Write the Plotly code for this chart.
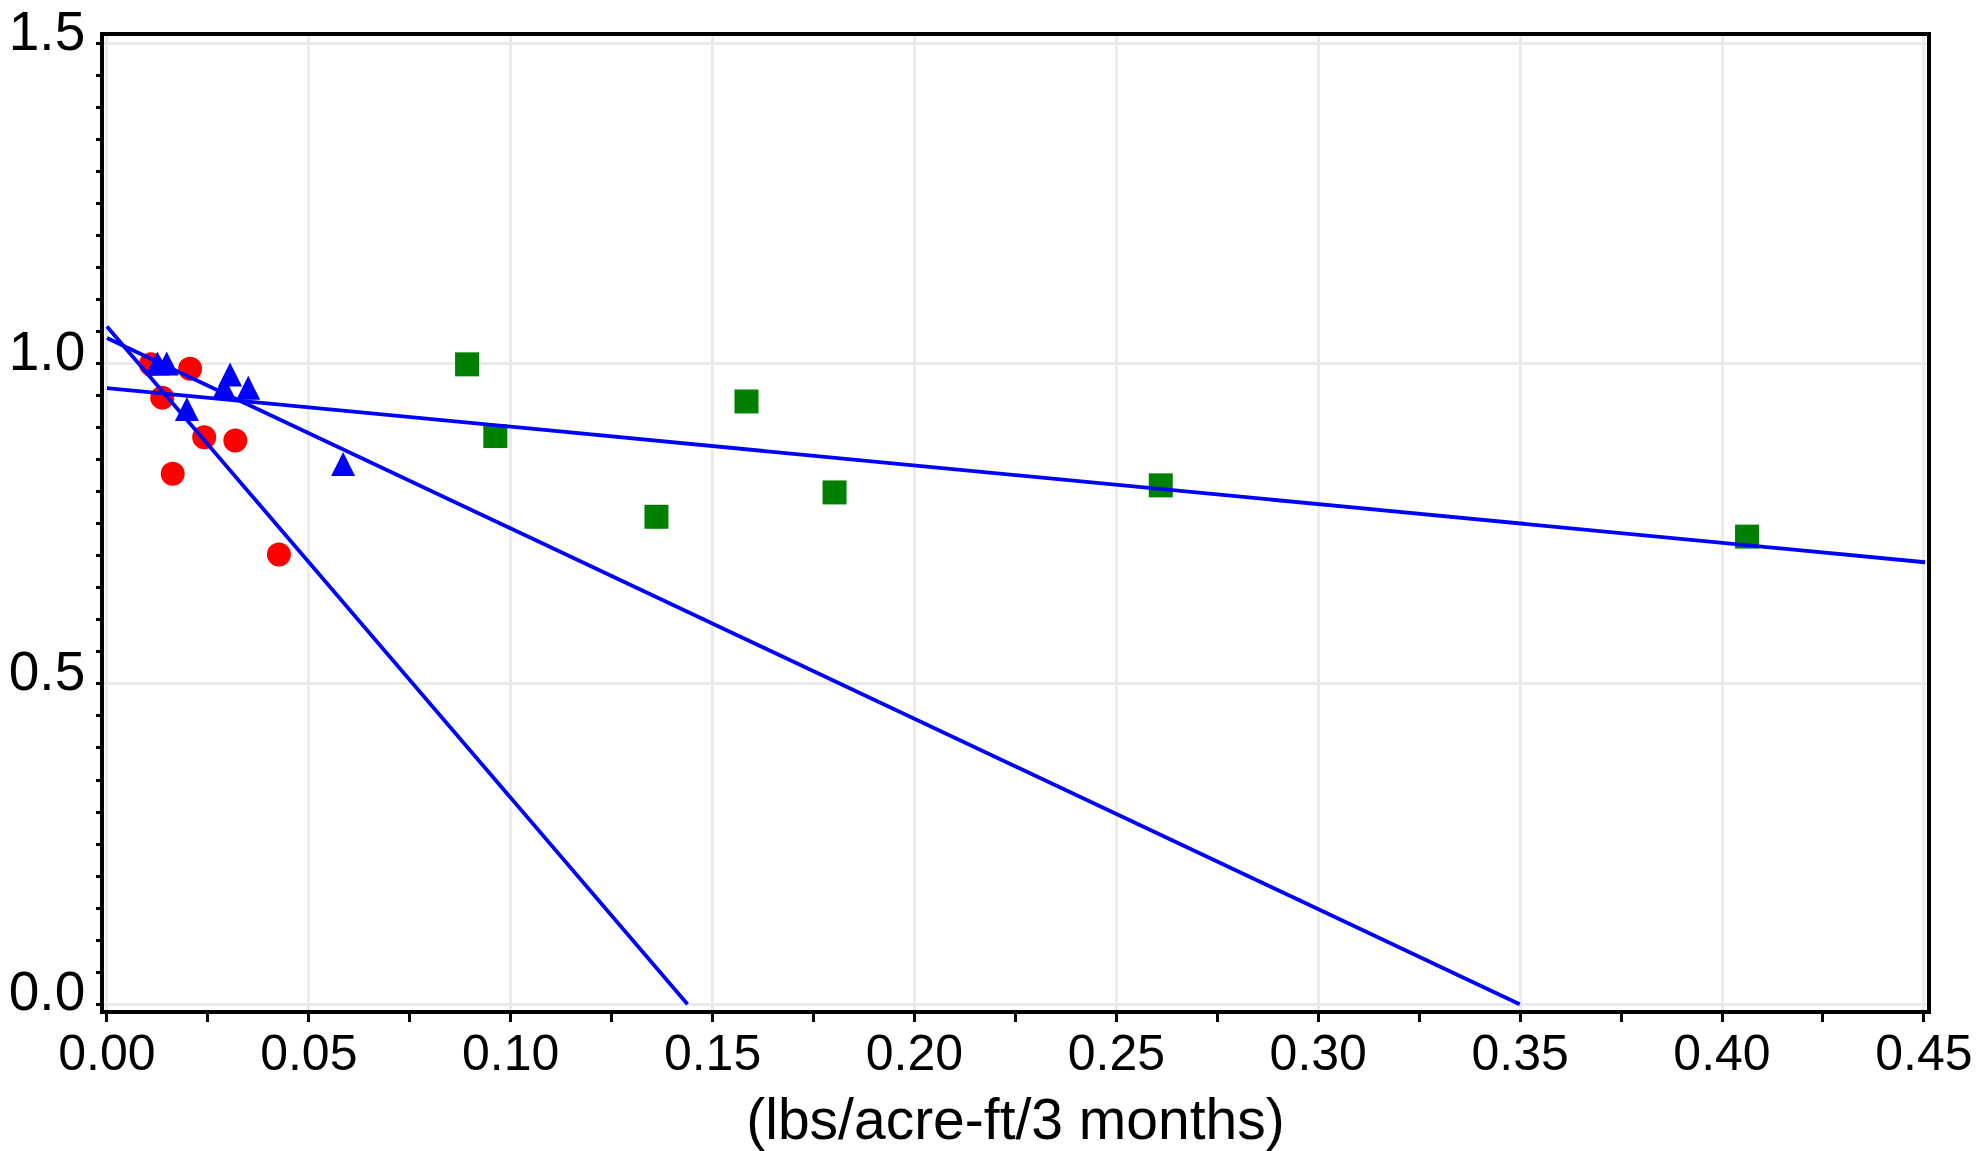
import plotly.graph_objects as go

# ---- data ----
red_x = [0.0109, 0.0206, 0.0137, 0.0241, 0.0318, 0.0163, 0.0426]
red_y = [0.999, 0.992, 0.947, 0.885, 0.880, 0.828, 0.702]

tri_x = [0.0125, 0.0148, 0.0305, 0.0290, 0.0350, 0.0198, 0.0585]
tri_y = [0.994, 0.994, 0.977, 0.956, 0.956, 0.923, 0.837]

sq_x = [0.0892, 0.0962, 0.1361, 0.1584, 0.1802, 0.2610, 0.4062]
sq_y = [0.999, 0.887, 0.761, 0.941, 0.799, 0.810, 0.730]

lineA_x = [0.0, 0.1438]
lineA_y = [1.058, 0.0]
lineB_x = [0.0, 0.3499]
lineB_y = [1.040, 0.0]
lineC_x = [0.0, 0.4503]
lineC_y = [0.962, 0.690]

x_title = "(lbs/acre-ft/3 months)"

FONT = "Arial, Liberation Sans, Helvetica, sans-serif"
BLUE = "#0000ff"

fig = go.Figure()
fig.add_trace(go.Scatter(x=red_x, y=red_y, mode="markers",
                         marker=dict(symbol="circle", size=24, color="#ff0000",
                                     line=dict(width=0))))
fig.add_trace(go.Scatter(x=tri_x, y=tri_y, mode="markers",
                         marker=dict(symbol="arrow-down", angle=180, standoff=16,
                                     size=24, color=BLUE, line=dict(width=0))))
fig.add_trace(go.Scatter(x=sq_x, y=sq_y, mode="markers",
                         marker=dict(symbol="square", size=24, color="#008000",
                                     line=dict(width=0))))
for lx, ly in [(lineA_x, lineA_y), (lineB_x, lineB_y), (lineC_x, lineC_y)]:
    fig.add_trace(go.Scatter(x=lx, y=ly, mode="lines",
                             line=dict(color=BLUE, width=3.8)))

fig.update_layout(
    width=1986, height=1151,
    margin=dict(l=104, r=59, t=36, b=141),
    plot_bgcolor="white", paper_bgcolor="white",
    showlegend=False,
    font=dict(family=FONT, color="black"),
)
fig.update_xaxes(
    range=[-0.00072, 0.45077],
    automargin=False,
    tick0=0, dtick=0.05, tickformat=".2f",
    ticks="outside", ticklen=8, tickwidth=3, tickcolor="black",
    minor=dict(dtick=0.025, ticks="outside", ticklen=8, tickwidth=3,
               tickcolor="black", showgrid=False),
    showgrid=True, gridcolor="#ebebeb", gridwidth=3,
    zeroline=False,
    showline=True, linecolor="black", linewidth=3.5, mirror=True,
    tickfont=dict(size=50, family=FONT, color="black"),
    ticklabelstandoff=-12,
    ticklabeloverflow="allow",
    title=dict(text=x_title, font=dict(size=57, family=FONT, color="black"),
               standoff=22),
)
fig.update_yaxes(
    range=[-0.00906, 1.5116],
    automargin=False,
    tick0=0, dtick=0.5, tickformat=".1f",
    ticks="outside", ticklen=4, tickwidth=3, tickcolor="black",
    minor=dict(dtick=0.05, ticks="outside", ticklen=4, tickwidth=3,
               tickcolor="black", showgrid=False),
    showgrid=True, gridcolor="#ebebeb", gridwidth=3,
    zeroline=False,
    showline=True, linecolor="black", linewidth=3.5, mirror=True,
    tickfont=dict(size=55, family=FONT, color="black"),
    ticklabelshift=-13,
    ticklabeloverflow="allow",
)

fig.write_html("out.html")
